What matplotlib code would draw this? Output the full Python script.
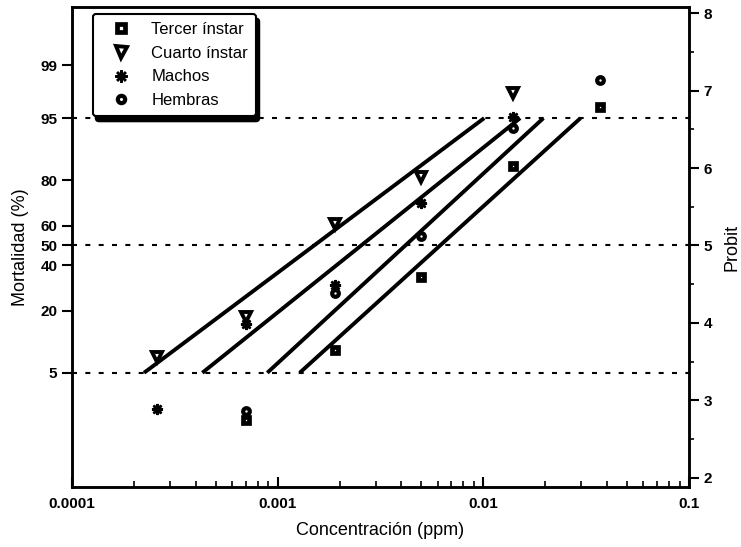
import matplotlib
matplotlib.use("Agg")
import matplotlib.pyplot as plt
from matplotlib.ticker import FixedLocator, NullFormatter, LogLocator, FixedFormatter
from statistics import NormalDist
import numpy as np

plt.rcParams['font.family'] = ['Liberation Sans', 'DejaVu Sans']

# ---- data (concentration in ppm, response in probit units) ----
tercer_x = [0.0007, 0.0019, 0.005, 0.014, 0.0368]
tercer_probit = [2.75, 3.65, 4.59, 6.03, 6.79]

cuarto_x = [0.00026, 0.0007, 0.0019, 0.005, 0.014]
cuarto_probit = [3.56, 4.07, 5.28, 5.88, 6.97]

machos_x = [0.00026, 0.0007, 0.0019, 0.005, 0.014]
machos_probit = [2.89, 3.99, 4.49, 5.55, 6.66]

hembras_x = [0.0007, 0.0019, 0.005, 0.014, 0.0368]
hembras_probit = [2.86, 4.39, 5.12, 6.52, 7.14]

# fitted probit lines: concentration at 5 % and 95 % mortality
series_names = ["Tercer ínstar", "Cuarto ínstar", "Machos", "Hembras"]
lc5 = {"Tercer ínstar": 0.00128, "Cuarto ínstar": 0.000224,
       "Machos": 0.00043, "Hembras": 0.00089}
lc95 = {"Tercer ínstar": 0.0297, "Cuarto ínstar": 0.0101,
        "Machos": 0.0151, "Hembras": 0.0196}

mort_ticks = [5, 20, 40, 50, 60, 80, 95, 99]
ref_lines = [5, 50, 95]
probit_ticks = [2, 3, 4, 5, 6, 7, 8]
x_ticks = [0.0001, 0.001, 0.01, 0.1]
x_labels = ["0.0001", "0.001", "0.01", "0.1"]


def probit(pct):
    return 5 + NormalDist().inv_cdf(pct / 100.0)


fig = plt.figure(figsize=(7.41, 5.47), dpi=100)
ax = fig.add_axes([0.0972, 0.1097, 0.8326, 0.8775])
ax.set_xscale('log')
ax.set_xlim(1e-4, 1e-1)
ax.set_ylim(1.88, 8.08)

# reference dotted lines
for p in ref_lines:
    ax.axhline(probit(p), color='black', lw=1.5, ls=(0, (2.4, 4.0)), zorder=1)

# fitted lines
for name in series_names:
    ax.plot([lc5[name], lc95[name]], [probit(5), probit(95)], color='black',
            lw=2.8, solid_capstyle='butt', zorder=2)

mk = dict(color='black', markerfacecolor='white', markeredgecolor='black',
          linestyle='none', zorder=3)
ax.plot(tercer_x, tercer_probit, marker='s', markersize=4.8, markeredgewidth=3.4,
        label="Tercer ínstar", **mk)
ax.plot(cuarto_x, cuarto_probit, marker='v', markersize=7.2, markeredgewidth=2.8,
        label="Cuarto ínstar", **mk)
ax.plot(machos_x, machos_probit, marker=(8, 2, 0), markersize=8, markeredgewidth=1.8,
        label="Machos", **mk)
ax.plot(hembras_x, hembras_probit, marker='o', markersize=4.8, markeredgewidth=3.0,
        label="Hembras", **mk)

# left axis: mortality
ax.yaxis.set_major_locator(FixedLocator([probit(p) for p in mort_ticks]))
ax.yaxis.set_major_formatter(FixedFormatter([str(p) for p in mort_ticks]))
ax.tick_params(axis='y', which='major', direction='out', length=7.5, width=1.5,
               labelsize=11, pad=3)
for t in ax.get_yticklabels():
    t.set_fontweight('bold')
ax.set_ylabel("Mortalidad (%)", fontsize=13, labelpad=8)

# x axis
ax.xaxis.set_major_locator(FixedLocator(x_ticks))
ax.xaxis.set_major_formatter(FixedFormatter(x_labels))
ax.xaxis.set_minor_locator(LogLocator(base=10, subs=np.arange(2, 10)))
ax.xaxis.set_minor_formatter(NullFormatter())
ax.tick_params(axis='x', which='major', direction='in', length=7, width=1.5,
               labelsize=11, pad=7)
ax.tick_params(axis='x', which='minor', direction='in', length=4, width=1.2)
for t in ax.get_xticklabels():
    t.set_fontweight('bold')
ax.set_xlabel("Concentración (ppm)", fontsize=13, labelpad=8)

for s in ax.spines.values():
    s.set_linewidth(1.8)

# right axis: probit
ax2 = ax.twinx()
ax2.set_ylim(ax.get_ylim())
ax2.set_yticks(probit_ticks)
ax2.set_yticks(np.arange(2.5, 8, 1.0), minor=True)
ax2.tick_params(axis='y', which='major', direction='out', length=7.5, width=1.5,
                labelsize=11, pad=3)
ax2.tick_params(axis='y', which='minor', direction='out', length=3.5, width=1.2)
for t in ax2.get_yticklabels():
    t.set_fontweight('bold')
ax2.set_ylabel("Probit", fontsize=13, labelpad=8)
for s in ax2.spines.values():
    s.set_linewidth(1.8)

leg = ax.legend(loc='upper left', bbox_to_anchor=(0.034, 0.986), borderaxespad=0,
                fontsize=12, frameon=True, fancybox=True,
                shadow={'color': 'black', 'alpha': 1.0, 'ox': 2.0, 'oy': -3.5},
                handletextpad=0.6, labelspacing=0.52, borderpad=0.5,
                handlelength=2.4, framealpha=1, edgecolor='black', markerscale=1.1)
leg.get_frame().set_linewidth(1.5)
leg.set_zorder(10)

fig.savefig("out.png", dpi=100)
